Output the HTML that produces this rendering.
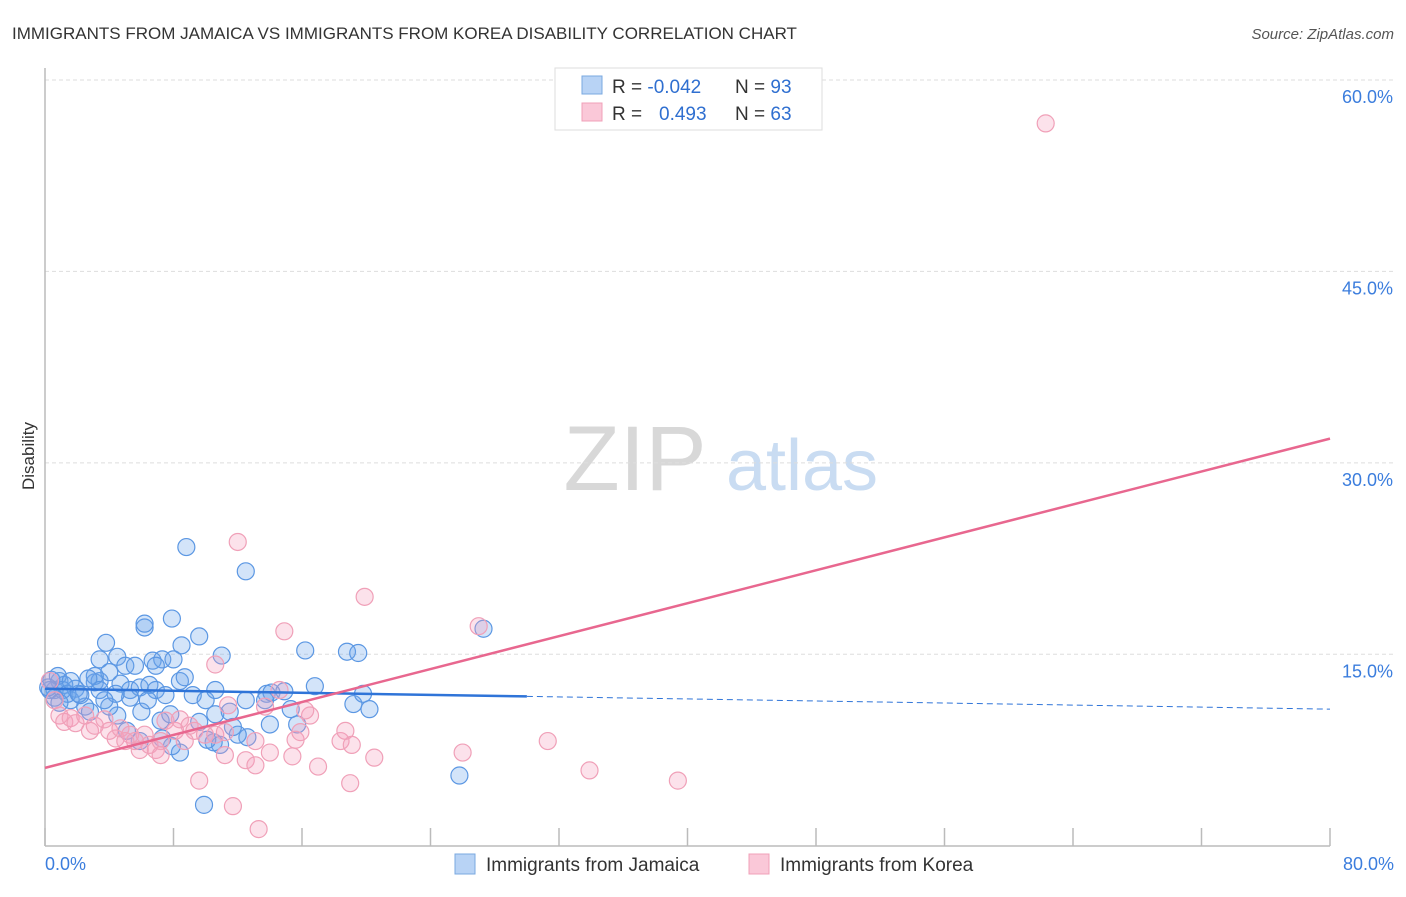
<!DOCTYPE html>
<html><head><meta charset="utf-8"><style>
body{margin:0;background:#fff;font-family:"Liberation Sans",sans-serif;}
svg text{font-family:"Liberation Sans",sans-serif;}
</style></head><body>
<svg width="1406" height="892" xmlns="http://www.w3.org/2000/svg" id="chart">
<text x="12" y="39" font-size="17" fill="#333">IMMIGRANTS FROM JAMAICA VS IMMIGRANTS FROM KOREA DISABILITY CORRELATION CHART</text>
<text x="1394" y="39" font-size="15" fill="#555" font-style="italic" text-anchor="end">Source: ZipAtlas.com</text>
<text x="34" y="456" font-size="17" fill="#333" text-anchor="middle" transform="rotate(-90 34 456)">Disability</text>
<g>
<text x="635" y="490" font-size="92" fill="#d8d8d8" font-family="Liberation Serif,serif" text-anchor="middle">ZIP</text>
<text x="802" y="490" font-size="72" fill="#c9dcf2" text-anchor="middle">atlas</text>
</g>
<g id="grid"></g>
<g id="axes"></g>
<g id="pts"></g>
<g id="lines"></g>
<g>
<rect x="555" y="68" width="267" height="62" fill="#fff" stroke="#ddd"/>
<rect x="582" y="76" width="20" height="18" fill="#b8d3f5" stroke="#7aa8e0"/>
<rect x="582" y="103" width="20" height="18" fill="#fac8d8" stroke="#f0a0b8"/>
<text x="612" y="93" font-size="19" fill="#333">R = <tspan fill="#2f6fd0">-0.042</tspan><tspan x="735">N = </tspan><tspan fill="#2f6fd0">93</tspan></text>
<text x="612" y="120" font-size="19" fill="#333">R = <tspan x="659" fill="#2f6fd0">0.493</tspan><tspan x="735">N = </tspan><tspan fill="#2f6fd0">63</tspan></text>
</g>
<g>
<rect x="455" y="854" width="20" height="20" fill="#b8d3f5" stroke="#7aa8e0"/>
<text x="486" y="871" font-size="19" fill="#333">Immigrants from Jamaica</text>
<rect x="749" y="854" width="20" height="20" fill="#fac8d8" stroke="#f0a0b8"/>
<text x="780" y="871" font-size="19" fill="#333">Immigrants from Korea</text>
</g>
</svg>
<script>
const yTicks=[15,30,45,60];
const yTickLabels=["15.0%","30.0%","45.0%","60.0%"];
const xTicks=[0,8,16,24,32,40,48,56,64,72,80];
const xEndLabels=["0.0%","80.0%"];
const jamaicaX=[8.8,12.5,7.9,6.2,6.2,9.6,3.8,8.5,11.0,16.2,18.8,19.5,3.4,4.5,6.7,7.3,8.0,27.3,25.8,9.9,20.2,19.2,16.8,19.8,13.8,14.1,14.9,15.3,15.7,14.0,12.6,10.6,10.9,10.5,8.4,7.9,7.3,7.2,5.9,5.1,4.5,4.0,2.5,1.6,0.6,0.9,1.9,3.1,3.4,4.7,5.3,5.9,6.5,6.9,7.5,8.4,9.2,10.0,10.6,11.5,12.5,5.0,4.0,3.1,2.7,1.2,0.3,0.4,0.8,1.1,1.4,2.2,2.8,3.4,5.6,6.9,8.7,6.0,6.4,7.8,9.6,10.1,5.3,4.4,2.1,1.6,0.6,0.2,0.9,3.7,13.7,12.0,11.7];
const jamaicaY=[23.4,21.5,17.8,17.1,17.4,16.4,15.9,15.7,14.9,15.3,15.2,15.1,14.6,14.8,14.5,14.6,14.6,17.0,5.5,3.2,10.7,11.1,12.5,11.9,11.9,12.0,12.1,10.7,9.5,9.5,8.5,10.3,7.9,8.1,7.3,7.8,8.4,9.8,8.2,9.0,10.2,10.9,10.9,11.4,12.2,12.9,12.3,12.8,12.9,12.7,12.2,12.4,12.6,12.2,11.8,12.9,11.8,11.4,12.2,10.5,11.4,14.1,13.6,13.3,13.1,12.6,12.2,13.0,13.3,12.2,11.9,11.8,10.5,12.2,14.1,14.1,13.2,10.5,11.4,10.3,9.7,8.3,11.6,11.9,11.9,12.9,11.6,12.4,11.2,11.4,11.4,8.7,9.3];
const koreaX=[62.3,12.0,19.9,14.9,27.0,10.6,0.3,0.6,0.9,1.2,1.6,1.9,2.5,2.8,3.1,3.7,4.0,4.4,4.7,5.3,5.6,6.2,6.5,6.9,7.2,7.5,8.1,8.4,9.0,9.3,9.96,10.6,11.2,11.4,13.1,14.0,12.5,13.1,11.2,9.6,11.7,13.3,15.6,15.9,16.5,17.0,15.4,18.4,18.7,19.1,19.0,20.5,26.0,31.3,33.9,39.4,8.7,5.0,5.9,7.2,16.2,13.7,14.6];
const koreaY=[56.6,23.8,19.5,16.8,17.2,14.2,12.9,11.4,10.2,9.7,10.0,9.6,10.2,9.0,9.4,9.9,9.0,8.4,9.2,8.7,8.2,8.7,7.9,7.5,8.2,9.8,9.0,9.9,9.4,9.0,8.7,8.7,8.9,11.0,8.2,7.3,6.7,6.3,7.1,5.1,3.1,1.3,8.3,8.9,10.2,6.2,7.0,8.2,9.0,7.9,4.9,6.9,7.3,8.2,5.9,5.1,8.2,8.2,7.5,7.1,10.6,10.9,12.2];
const jamaicaTrend=[12.3,10.7];
const koreaTrend=[6.1,31.9];
const NS='http://www.w3.org/2000/svg';
const X=v=>45+v*(1285/80);
const Y=v=>845.7-v*(765.7/60);
function mk(tag,attrs,parent){const e=document.createElementNS(NS,tag);for(const k in attrs)e.setAttribute(k,attrs[k]);document.getElementById(parent).appendChild(e);return e;}
yTicks.forEach((t,i)=>{
 const l=mk('line',{x1:45,x2:1394,y1:Y(t),y2:Y(t),stroke:'#ddd','stroke-dasharray':'4,3'},'grid');
 
 
 const tx=mk('text',{x:1393,y:Y(t)+23,'font-size':18,fill:'#3b7ddd','text-anchor':'end'},'grid');
 tx.textContent=yTickLabels[i];
 
 
});
const ax=mk('line',{x1:45,x2:45,y1:68,y2:846,stroke:'#bbb','stroke-width':1.5},'axes');


const bx=mk('line',{x1:45,x2:1330,y1:846,y2:846,stroke:'#bbb','stroke-width':1.5},'axes');


xTicks.forEach(t=>{
 const l=mk('line',{x1:X(t),x2:X(t),y1:828,y2:846,stroke:'#bbb','stroke-width':1.5},'axes');
 
 
});
[[0,'start',45],[80,'end',1394]].forEach((d,i)=>{
 const tx=mk('text',{x:d[2],y:870,'font-size':18,fill:'#3b7ddd','text-anchor':d[1]},'axes');
 tx.textContent=xEndLabels[i];
 
 
});
jamaicaX.forEach((x,i)=>{
 const c=mk('circle',{cx:X(x),cy:Y(jamaicaY[i]),r:8.5,fill:'rgba(110,165,235,0.3)',stroke:'#5b97e3','stroke-width':1.2},'pts');
 
 
});
koreaX.forEach((x,i)=>{
 const c=mk('circle',{cx:X(x),cy:Y(koreaY[i]),r:8.5,fill:'rgba(245,160,190,0.3)',stroke:'#f0a0b8','stroke-width':1.2},'pts');
 
 
});
const jt=v=>jamaicaTrend[0]+(jamaicaTrend[1]-jamaicaTrend[0])*v/80;
const l1=mk('line',{x1:X(0),y1:Y(jt(0)),x2:X(30),y2:Y(jt(30)),stroke:'#2f74d8','stroke-width':2.5},'lines');


const l2=mk('line',{x1:X(30),y1:Y(jt(30)),x2:X(80),y2:Y(jt(80)),stroke:'#2f74d8','stroke-width':1,'stroke-dasharray':'6,4'},'lines');


const l3=mk('line',{x1:X(0),y1:Y(koreaTrend[0]),x2:X(80),y2:Y(koreaTrend[1]),stroke:'#e8678f','stroke-width':2.5},'lines');


</script>
</body></html>
